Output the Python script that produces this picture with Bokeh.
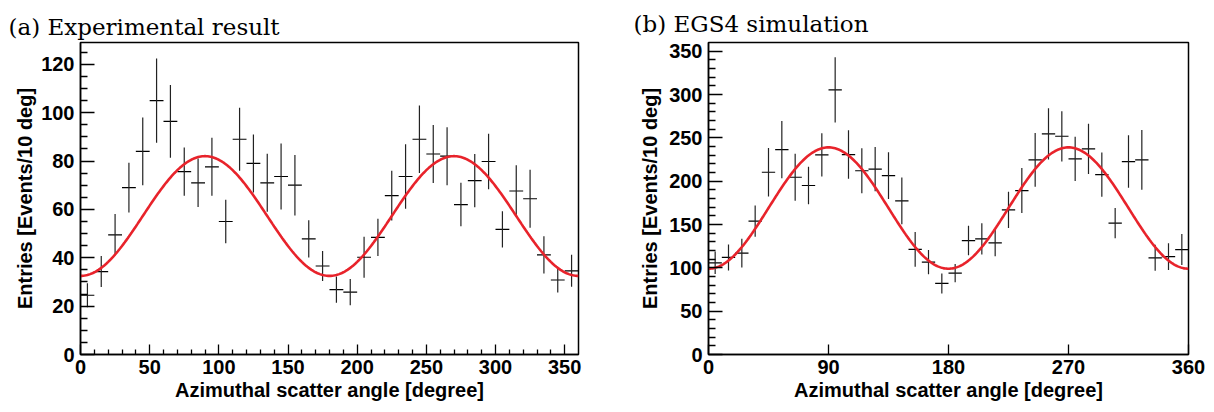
import numpy as np
from bokeh.plotting import figure
from bokeh.layouts import row
from bokeh.models import Range1d, FixedTicker
from bokeh.embed import file_html
from bokeh.resources import INLINE

# ---------------- data ----------------
bin_centers = [5, 15, 25, 35, 45, 55, 65, 75, 85, 95, 105, 115, 125, 135, 145, 155, 165, 175,
               185, 195, 205, 215, 225, 235, 245, 255, 265, 275, 285, 295, 305, 315, 325, 335, 345, 355]
bin_half_width = 5

exp_counts = [24.5, 34.3, 49.5, 69, 84, 105, 96.4, 75.6, 71, 77.6, 55, 89, 79, 71, 73.6, 70, 47.8, 36.6,
              26.8, 25.8, 40.2, 48.4, 65.7, 73.6, 89, 82.9, 82, 62, 71.9, 79.8, 51.7, 67.6, 64.4, 41.2, 30.8, 34.6]
exp_errors = [5, 6.4, 8.6, 10.3, 14, 17.4, 15, 10, 10, 12, 9, 13, 12, 12, 13.6, 12.5, 7.7, 6.2,
              5.4, 5.4, 8.5, 7.7, 10.3, 13.3, 14, 12, 12, 9, 11, 11.5, 7.5, 10.6, 12, 7.7, 5.2, 6.6]

sim_counts = [105.8, 112, 117, 153.8, 210.3, 236.4, 204.5, 195, 230.3, 305.3, 230.7, 212, 214, 206.5, 177.2, 121.3,
              106.5, 82, 93.8, 131.5, 133.4, 128.8, 166.9, 189.2, 224.5, 254.5, 251.8, 225.7, 237.2, 207.6,
              151.5, 222.6, 224.5, 111.5, 113, 121.1]
sim_errors = [13, 15, 16.5, 18, 28, 33, 27, 21.5, 25, 37.6, 28, 26, 25.5, 27, 27, 20,
              14, 11.5, 10.5, 17, 18, 15.5, 21, 26, 31, 29.5, 29, 25.5, 29, 25.5,
              17.5, 30.3, 34.5, 15, 15.5, 17.8]

# fit parameters: f(phi) = offset - amplitude * cos(2*phi)
exp_fit = {"offset": 57.25, "amplitude": 24.75}
sim_fit = {"offset": 169.0, "amplitude": 70.0}

exp_xticks = [0, 50, 100, 150, 200, 250, 300, 350]
exp_yticks = [0, 20, 40, 60, 80, 100, 120]
sim_xticks = [0, 90, 180, 270, 360]
sim_yticks = [0, 50, 100, 150, 200, 250, 300, 350]

titles = ["(a) Experimental result", "(b) EGS4 simulation"]
xlabel = "Azimuthal scatter angle [degree]"
ylabel = "Entries [Events/10 deg]"

SANS = "Liberation Sans"
SERIF = "DejaVu Serif"
RED = "#e8232b"


def make_panel(title, counts, errors, fit, xticks, xminor, yticks, yminor, ymax,
               width, bl, br, bt, bb, toff, tstand, ytick_in, xtick_in, ylab_standoff):
    p = figure(width=width, height=412, output_backend="svg", toolbar_location=None,
               x_range=Range1d(0, 360), y_range=Range1d(0, ymax),
               min_border_left=bl, min_border_right=br, min_border_top=bt, min_border_bottom=bb)
    p.title.text = title
    p.title.text_font = SERIF
    p.title.text_font_size = "23px"
    p.title.text_font_style = "normal"
    p.title.text_color = "black"
    p.title.align = "left"
    p.title.offset = toff
    p.title.standoff = tstand
    p.grid.visible = False
    p.outline_line_color = "black"
    p.outline_line_width = 1.5
    p.background_fill_color = "white"
    p.border_fill_color = "white"

    p.xaxis.ticker = FixedTicker(ticks=xticks, minor_ticks=xminor)
    p.yaxis.ticker = FixedTicker(ticks=yticks, minor_ticks=yminor)
    for ax in (p.xaxis[0], p.yaxis[0]):
        ax.axis_line_color = "black"
        ax.axis_line_width = 1.5
        ax.major_tick_line_color = "black"
        ax.minor_tick_line_color = "black"
        ax.major_tick_line_width = 1.3
        ax.minor_tick_line_width = 1.3
        ax.major_tick_out = 0
        ax.minor_tick_out = 0
        ax.major_label_text_font = SANS
        ax.major_label_text_font_style = "bold"
        ax.major_label_text_font_size = "20px"
        ax.major_label_text_color = "black"
        ax.axis_label_text_font = SANS
        ax.axis_label_text_font_style = "bold"
        ax.axis_label_text_font_size = "20px"
        ax.axis_label_text_color = "black"
    p.yaxis.major_tick_in = ytick_in
    p.yaxis.minor_tick_in = ytick_in // 2
    p.xaxis.major_tick_in = xtick_in
    p.xaxis.minor_tick_in = xtick_in // 2
    p.xaxis.major_label_standoff = 5
    p.yaxis.major_label_standoff = 6
    p.xaxis.axis_label = xlabel
    p.yaxis.axis_label = ylabel
    p.xaxis.axis_label_standoff = 2
    p.yaxis.axis_label_standoff = ylab_standoff

    c = np.array(bin_centers, dtype=float)
    v = np.array(counts, dtype=float)
    e = np.array(errors, dtype=float)
    p.segment(x0=c - bin_half_width, y0=v, x1=c + bin_half_width, y1=v, line_color="black", line_width=1.2)
    p.segment(x0=c, y0=v - e, x1=c, y1=v + e, line_color="#222222", line_width=1.2)

    phi = np.linspace(0, 360, 361)
    f = fit["offset"] - fit["amplitude"] * np.cos(np.radians(2 * phi))
    p.line(phi, f, line_color=RED, line_width=2.6)
    return p


p1 = make_panel(titles[0], exp_counts, exp_errors, exp_fit,
                exp_xticks, [x for x in range(10, 360, 10) if x % 50 != 0],
                exp_yticks, [y for y in range(5, 129, 5) if y % 20 != 0], 129,
                width=607, bl=80, br=29, bt=35, bb=56, toff=-72, tstand=5,
                ytick_in=14, xtick_in=10, ylab_standoff=2)
p2 = make_panel(titles[1], sim_counts, sim_errors, sim_fit,
                sim_xticks, [],
                sim_yticks, [y for y in range(10, 360, 10) if y % 50 != 0], 360,
                width=607, bl=101, br=26, bt=42, bb=58, toff=-75, tstand=11,
                ytick_in=14, xtick_in=10, ylab_standoff=5)

layout = row(p1, p2)
open("out.html", "w").write(file_html(layout, INLINE))
